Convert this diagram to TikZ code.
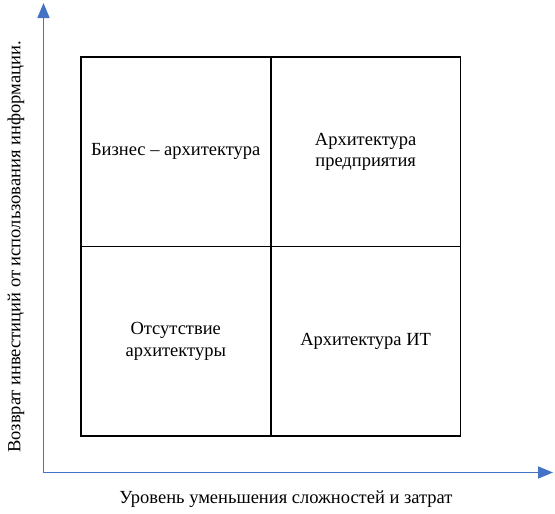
\documentclass[tikz,border=0pt]{standalone}
\usepackage{fontspec}
\setmainfont{Liberation Serif}
\usepackage{tikz}
\usetikzlibrary{arrows.meta,positioning}

\definecolor{axisblue}{RGB}{68,114,196}

\begin{document}
\begin{tikzpicture}[
  x=1pt, y=-1pt,
  every node/.style={font=\fontsize{18.5}{21.5}\selectfont},
  cell/.style={rectangle, draw, line width=0.9pt, align=center,
               minimum width=189pt, minimum height=188.5pt, inner sep=0pt},
  axis/.style={-{Triangle[length=15pt,width=12pt]}, draw=axisblue,
               fill=axisblue, line width=1.6pt},
]
\useasboundingbox[fill=white] (0,0) rectangle (555,514);

% quadrants
\node[cell] (bus) at (175.75,151.75) {Бизнес – архитектура};
\node[cell, right=0pt of bus] (ent)  {Архитектура\\предприятия};
\node[cell, below=0pt of bus] (none) {Отсутствие\\архитектуры};
\node[cell, below=0pt of ent] (it)   {Архитектура ИТ};
\draw[line width=1.6pt] (bus.north west) rectangle (it.south east);

% axes
\coordinate (origin) at (43.5,472.5);
\coordinate (ytop)   at (43.5,3);
\coordinate (xend)   at (553,472.5);
\draw[axis] (origin) -- (ytop);
\draw[axis] (origin) -- (xend);

\node (xlabel) at (286,499) {Уровень уменьшения сложностей и затрат};
\node[rotate=90] (ylabel) at (16,247) {Возврат инвестиций от использования информации.};
\end{tikzpicture}
\end{document}
